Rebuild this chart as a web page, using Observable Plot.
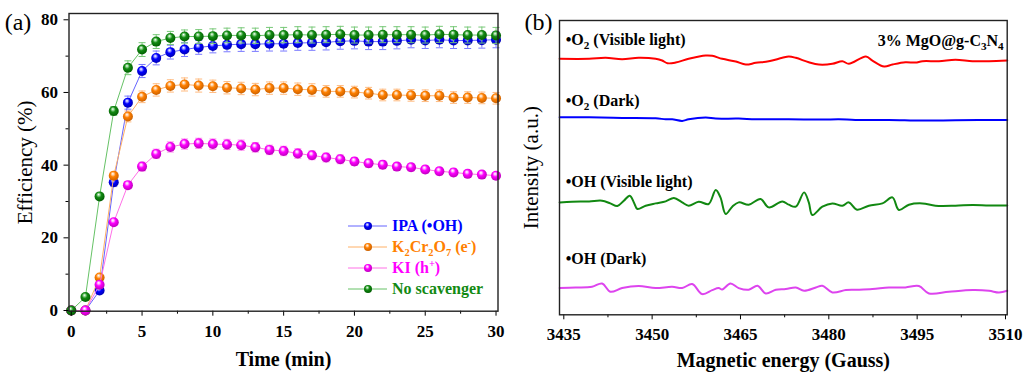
<!DOCTYPE html>
<html><head><meta charset="utf-8">
<script src="https://cdn.jsdelivr.net/npm/d3@7"></script>
<script src="https://cdn.jsdelivr.net/npm/@observablehq/plot@0.6"></script>
<style>
body{margin:0;background:#fff;}
#wrap{position:relative;width:1024px;height:382px;overflow:hidden;background:#fff;font-family:"Liberation Serif","Times New Roman",serif;}
#wrap sub,#wrap sup{font-size:65%;line-height:0;}
</style></head><body>
<div id="wrap"></div>
<script>
// ---------- Panel (a) data ----------
const times = [0,1,2,3,4,5,6,7,8,9,10,11,12,13,14,15,16,17,18,19,20,21,22,23,24,25,26,27,28,29,30];
const ipa   = [0,0,5.5,35.3,57.2,65.9,69.5,71.1,71.8,72.4,72.8,73.1,73.3,73.3,73.4,73.4,73.6,73.7,73.8,74.1,74.2,74.0,74.0,74.2,74.5,74.3,74.5,74.3,74.3,74.4,74.5];
const k2cr  = [0,0,9.1,37.1,53.4,58.8,60.7,61.8,62.2,61.9,61.7,61.3,61.1,60.8,61.2,61.2,60.9,60.7,60.3,60.3,60.1,59.8,59.3,59.3,59.2,59.1,59.1,58.6,58.6,58.5,58.4];
const ki    = [0,0,7.1,24.3,34.5,39.6,43.1,45.0,45.8,46.0,45.8,45.7,45.5,44.9,44.2,43.9,43.2,42.7,42.1,41.6,41.0,40.5,40.1,39.6,39.4,38.8,38.3,38.0,37.6,37.4,37.1];
const noScav= [0,3.7,31.4,54.9,66.8,71.8,74.0,75.0,75.4,75.4,75.5,75.7,75.7,75.6,75.8,75.8,75.9,75.8,75.9,76.0,75.8,75.8,75.9,75.9,75.9,75.8,76.0,75.9,75.8,75.8,75.7];
const ipaErr   = [0.3,0.3,0.6,1.2,1.8,1.8,1.9,1.9,1.9,1.9,1.9,1.9,2.0,2.0,2.0,2.0,2.0,2.1,2.1,2.2,2.2,2.2,2.2,2.2,2.2,2.2,2.2,2.2,2.2,2.2,2.2];
const k2crErr  = [0.3,0.3,0.6,1.0,1.5,1.6,1.7,1.7,1.8,1.8,1.7,1.7,1.7,1.7,1.7,1.7,1.7,1.7,1.6,1.6,1.6,1.6,1.6,1.6,1.6,1.6,1.6,1.6,1.6,1.6,1.6];
const kiErr    = [0.3,0.3,0.5,0.8,1.0,1.2,1.3,1.4,1.4,1.4,1.4,1.4,1.4,1.3,1.3,1.3,1.3,1.2,1.2,1.2,1.1,1.1,1.1,1.0,1.0,1.0,1.0,1.0,1.0,0.9,0.9];
const noScavErr= [0.3,0.5,0.8,1.2,1.9,1.9,1.9,1.8,1.8,1.9,2.0,2.0,2.1,2.1,2.1,2.1,2.2,2.2,2.2,2.2,2.2,2.2,2.2,2.2,2.2,2.2,2.2,2.2,2.2,2.2,2.2];
const seriesNames  = ["IPA (•OH)", "K_2Cr_2O_7 (e^-)", "KI (h^+)", "No scavenger"];
const seriesColors = ["#0000ff", "#ff8000", "#ff00ff", "#138a13"];
const lineColors   = ["#6464ff", "#ffb066", "#ff70e6", "#66c266"];
const errColors    = ["#7a7aff", "#ffbb80", "#ff8cf0", "#78c878"];
const hiColors     = ["#a8a8ff", "#ffd2a6", "#ffb8ff", "#9ad89a"];
const darkColors   = ["#0000b0", "#c85f00", "#b800b8", "#005c00"];
const xMajor = [0,5,10,15,20,25,30];
const xMinor = [2.5,7.5,12.5,17.5,22.5,27.5];
const yMajor = [0,20,40,60,80];
const yMinor = [10,30,50,70];

// ---------- Panel (b) data: [Gauss, intensity a.u.] ----------
const o2Light = [[3434.3,255.7],[3439.3,255.7],[3442.1,256.7],[3444.9,255.3],[3447.7,256.7],[3450.6,255.7],[3451.7,254.0],[3452.6,251.3],[3454.0,252.0],[3456.2,255.7],[3459.1,259.0],[3460.2,258.7],[3461.9,255.7],[3464.2,253.0],[3465.9,250.0],[3467.6,251.7],[3469.8,253.3],[3472.1,256.7],[3473.2,258.0],[3474.4,256.7],[3476.6,252.3],[3478.3,250.0],[3480.6,250.7],[3482.3,253.3],[3483.4,250.7],[3486.3,258.0],[3487.4,254.0],[3489.4,248.0],[3490.8,250.0],[3493.0,252.3],[3494.7,252.0],[3495.9,253.3],[3498.7,253.3],[3501.5,254.7],[3504.4,253.3],[3507.2,253.3],[3510.3,254.0]];
const o2Dark = [[3434.3,197.3],[3439.3,197.3],[3444.9,196.7],[3450.6,196.3],[3452.3,195.3],[3453.4,195.3],[3455.1,193.7],[3456.2,195.3],[3459.1,197.0],[3460.8,196.0],[3464.7,196.0],[3467.6,195.3],[3473.2,195.3],[3478.9,195.0],[3481.7,195.3],[3484.5,194.7],[3490.2,194.7],[3495.9,194.0],[3501.5,194.3],[3510.3,194.7]];
const ohLight = [[3434.3,112.3],[3436.4,113.0],[3439.3,113.3],[3441.5,114.0],[3442.9,111.3],[3444.1,108.7],[3445.2,114.0],[3446.2,119.0],[3446.9,112.3],[3447.5,105.7],[3448.9,109.0],[3450.6,111.3],[3452.3,113.3],[3453.7,116.7],[3455.1,112.3],[3456.2,109.0],[3457.9,113.0],[3459.6,110.7],[3460.8,124.7],[3461.6,117.3],[3462.5,100.7],[3463.6,108.0],[3464.7,112.3],[3466.4,110.0],[3468.4,115.7],[3469.8,107.3],[3472.1,113.3],[3473.2,110.0],[3474.4,108.0],[3475.8,122.3],[3476.6,112.3],[3477.2,99.7],[3478.9,108.0],[3480.6,111.3],[3482.3,109.0],[3483.4,112.3],[3484.8,105.0],[3486.8,109.0],[3489.1,111.3],[3490.8,117.3],[3491.9,104.7],[3493.6,110.0],[3495.9,111.3],[3498.1,109.0],[3501.5,109.0],[3504.4,109.7],[3507.2,109.3],[3510.3,109.3]];
const ohDark = [[3434.3,26.7],[3437.0,27.3],[3439.8,28.0],[3441.5,31.3],[3442.9,23.0],[3444.9,26.7],[3447.7,28.7],[3450.6,26.7],[3453.4,28.0],[3455.1,26.7],[3456.8,30.7],[3458.5,20.7],[3460.2,24.7],[3461.3,26.7],[3461.9,25.3],[3463.3,31.3],[3464.7,26.7],[3466.4,25.0],[3467.9,29.0],[3469.3,21.3],[3471.0,25.0],[3472.7,25.7],[3474.4,27.3],[3475.8,24.0],[3477.8,27.3],[3478.9,29.0],[3480.6,22.3],[3482.9,24.7],[3484.5,25.0],[3487.4,25.7],[3490.2,27.3],[3493.0,27.3],[3495.3,28.7],[3497.0,21.3],[3500.4,23.0],[3504.4,24.7],[3507.2,24.0],[3508.9,22.3],[3510.3,24.0]];
const traceNames  = ["•O_2 (Visible light)", "•O_2 (Dark)", "•OH (Visible light)", "•OH (Dark)"];
const traceColors = ["#ff0000", "#0000ff", "#118811", "#dd44ee"];
const gMajor = [3435,3450,3465,3480,3495,3510];
const gMinor = [3442.5,3457.5,3472.5,3487.5,3502.5];
const sampleLabel = "3% MgO@g-C_3N_4";

// ---------- helpers ----------
const FONT = "'Liberation Serif','Times New Roman',serif";
const wrap = document.getElementById("wrap");
wrap.insertAdjacentHTML("beforeend",
  `<svg width="0" height="0" style="position:absolute"><defs>${seriesColors.map((c,i)=>
   `<radialGradient id="grad${i}" cx="0.45" cy="0.42" r="0.6" fx="0.4" fy="0.3"><stop offset="0" stop-color="#ffffff"/><stop offset="0.18" stop-color="${hiColors[i]}"/><stop offset="0.45" stop-color="${c}"/><stop offset="1" stop-color="${darkColors[i]}"/></radialGradient>`).join("")}</defs></svg>`);

function toHTML(s){ return s.replace(/_(\{[^}]*\}|.)/g,(m,p)=>`<sub>${p.replace(/[{}]/g,"")}</sub>`).replace(/\^(\{[^}]*\}|.)/g,(m,p)=>`<sup>${p.replace(/[{}]/g,"")}</sup>`); }
function richSVG(root){
  root.querySelectorAll("text").forEach(t=>{
    const s = t.textContent;
    if(!/[_^]/.test(s)) return;
    const parts = s.split(/([_^](?:\{[^}]*\}|.))/).filter(p=>p!=="");
    t.textContent = "";
    let shift = 0;
    parts.forEach(p=>{
      const ts = document.createElementNS("http://www.w3.org/2000/svg","tspan");
      if(p[0]==="_"||p[0]==="^"){
        const d = p[0]==="_" ? 4 : -6;
        ts.setAttribute("dy", d - shift);
        ts.setAttribute("font-size","70%");
        ts.textContent = p.slice(1).replace(/[{}]/g,"");
        shift = d;
      } else {
        ts.setAttribute("dy", -shift);
        ts.textContent = p; shift = 0;
      }
      t.appendChild(ts);
    });
  });
}
const capSym = {draw(ctx, size){ const r = Math.sqrt(size/Math.PI); ctx.moveTo(-r,0); ctx.lineTo(r,0); }};
const baseStyle = {fontFamily:FONT, fontSize:"17px", fontWeight:"bold", color:"#000", background:"transparent", overflow:"visible"};

// ---------- Panel (a) ----------
const seriesVals = [ipa, k2cr, ki, noScav];
const seriesErrs = [ipaErr, k2crErr, kiErr, noScavErr];
const leftMarks = [];
seriesVals.forEach((vals,i)=>{
  const data = times.map((t,j)=>({t, v: vals[j], e: seriesErrs[i][j]}));
  leftMarks.push(
    Plot.ruleX(data,{x:"t", y1:d=>d.v-d.e, y2:d=>d.v+d.e, stroke:errColors[i], strokeWidth:1}),
    Plot.dot(data,{x:"t", y:d=>d.v+d.e, symbol:capSym, r:3.5, stroke:errColors[i], fill:"none", strokeWidth:1}),
    Plot.dot(data,{x:"t", y:d=>d.v-d.e, symbol:capSym, r:3.5, stroke:errColors[i], fill:"none", strokeWidth:1}),
    Plot.line(data,{x:"t", y:"v", stroke:lineColors[i], strokeWidth:1}),
    Plot.dot(data,{x:"t", y:"v", r:5, fill:`url(#grad${i})`, stroke:"none"})
  );
});
const left = Plot.plot({
  width:520, height:382,
  marginLeft:68.5, marginRight:22.5, marginTop:13, marginBottom:71.3,
  x:{domain:[-0.16,30.14]},
  y:{domain:[-0.19,81.73]},
  style:baseStyle,
  marks:[
    ...leftMarks,
    Plot.axisX({ticks:xMajor, tickSize:5, tickPadding:9, label:null}),
    Plot.axisX({ticks:xMinor, tickSize:3, tickFormat:()=>"", label:null}),
    Plot.axisY({ticks:yMajor, tickSize:5, tickPadding:6, label:null}),
    Plot.axisY({ticks:yMinor, tickSize:3, tickFormat:()=>"", label:null}),
    Plot.frame({stroke:"#222", strokeWidth:1.4}),
    Plot.text(["Efficiency (%)"],{text:d=>d, frameAnchor:"left", rotate:-90, dx:-44, fontSize:21, fontWeight:"normal", textAnchor:"middle"}),
    Plot.text(["Time (min)"],{text:d=>d, frameAnchor:"bottom", dy:55, fontSize:20, fontWeight:"bold", textAnchor:"middle"}),
    Plot.text(["(a)"],{text:d=>d, frameAnchor:"top-left", dx:-51, dy:-1, fontSize:24, fontWeight:"normal", textAnchor:"middle"})
  ]
});
left.style.position="absolute"; left.style.left="0px"; left.style.top="0px";
wrap.appendChild(left);

// legend
const legend = document.createElement("div");
legend.style.cssText = `position:absolute;left:347px;top:215.5px;font:bold 16px ${FONT};`;
seriesNames.forEach((n,i)=>{
  const row = document.createElement("div");
  row.style.cssText = `height:21px;display:flex;align-items:center;color:${seriesColors[i]};white-space:nowrap;`;
  row.innerHTML = `<svg width="42" height="12" style="margin-right:3px;flex:none"><line x1="1" x2="40" y1="6" y2="6" stroke="${lineColors[i]}" stroke-width="1"/><circle cx="21" cy="6" r="4" fill="url(#grad${i})"/></svg><span>${toHTML(n)}</span>`;
  legend.appendChild(row);
});
wrap.appendChild(legend);

// ---------- Panel (b) ----------
const traces = [o2Light, o2Dark, ohLight, ohDark];
const labelDy = [-18.5, -16, -20.5, -29];
const rightMarks = [];
traces.forEach((tr,i)=>{
  rightMarks.push(Plot.line(tr,{x:d=>d[0], y:d=>d[1], stroke:traceColors[i], strokeWidth:2, curve:"catmull-rom"}));
  rightMarks.push(Plot.text([tr[0]],{x:d=>d[0], y:d=>d[1], text:()=>traceNames[i], textAnchor:"start", dx:6, dy:labelDy[i], fontSize:16, fontWeight:"bold"}));
});
const right = Plot.plot({
  width:504, height:382,
  marginLeft:39, marginRight:17.3, marginTop:20, marginBottom:67.7,
  x:{domain:[3434.27,3510.29]},
  y:{domain:[0,294], axis:null},
  style:baseStyle,
  marks:[
    ...rightMarks,
    Plot.axisX({ticks:gMajor, tickSize:5, tickPadding:8, tickFormat:d=>String(d), label:null}),
    Plot.axisX({ticks:gMinor, tickSize:3, tickFormat:()=>"", label:null}),
    Plot.frame({stroke:"#222", strokeWidth:1.4}),
    Plot.text([sampleLabel],{text:d=>d, frameAnchor:"top-right", textAnchor:"end", dx:-3.5, dy:14, fontSize:16, fontWeight:"bold"}),
    Plot.text(["Intensity (a.u.)"],{text:d=>d, frameAnchor:"left", rotate:-90, dx:-28, fontSize:21, fontWeight:"normal", textAnchor:"middle"}),
    Plot.text(["Magnetic energy (Gauss)"],{text:d=>d, frameAnchor:"bottom", dy:52, fontSize:20, fontWeight:"bold", textAnchor:"middle"}),
    Plot.text(["(b)"],{text:d=>d, frameAnchor:"top-left", dx:-21, dy:-8, fontSize:24, fontWeight:"normal", textAnchor:"middle"})
  ]
});
right.style.position="absolute"; right.style.left="520px"; right.style.top="0px";
wrap.appendChild(right);
richSVG(right);
richSVG(left);
</script>
</body></html>
